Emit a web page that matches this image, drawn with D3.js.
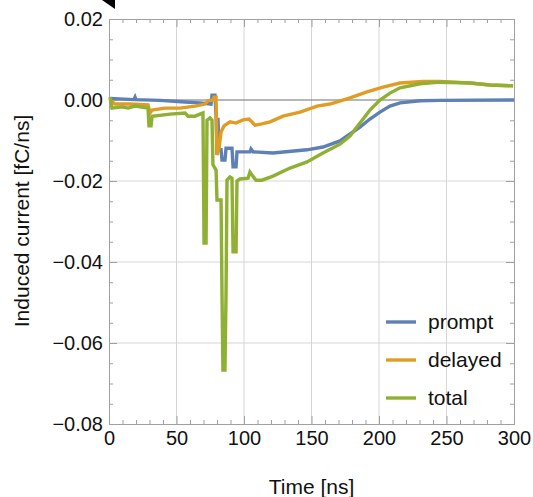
<!DOCTYPE html>
<html>
<head>
<meta charset="utf-8">
<script src="https://cdn.jsdelivr.net/npm/d3@7"></script>
<style>
  body { margin: 0; background: #fff; }
  svg { font-family: "Liberation Sans", Arial, sans-serif; }
</style>
</head>
<body>
<div class="chart"></div>
<script>
// time [ns], induced current [fC/ns]
const promptData = [
  [0.7, 0.0004], [18.5, 0.0001], [19.3, 0.0007], [20.0, 0.0001], [37.8, -0.0001],
  [56.3, -0.0005], [67.4, -0.0007], [75.6, -0.001], [76.3, 0.0012], [78.5, 0.0012],
  [79.3, -0.0037], [80.0, -0.0136], [80.7, -0.0044], [81.5, -0.0123], [83.0, -0.0123],
  [83.7, -0.0148], [85.9, -0.0148], [86.7, -0.0119], [91.1, -0.0119], [91.9, -0.0165],
  [94.1, -0.0165], [94.8, -0.0128], [104.4, -0.0128], [105.2, -0.0121], [106.7, -0.0128],
  [121.5, -0.0131], [146.7, -0.0123], [158.5, -0.0116], [171.1, -0.0101], [178.5, -0.0084],
  [185.9, -0.0067], [193.3, -0.0047], [200.7, -0.003], [208.1, -0.0015], [215.6, -0.0007],
  [230.4, -0.0002], [245.2, -0.0001], [300, 0]
];
const delayedData = [
  [1.5, -0.0002], [4.4, -0.001], [15.6, -0.001], [28.9, -0.0012], [30.4, -0.0032],
  [31.9, -0.0025], [41.5, -0.002], [52.6, -0.002], [63.7, -0.0015], [71.1, -0.001],
  [73.3, -0.0002], [77.0, 0], [77.8, 0.0007], [79.3, 0.0007], [80.0, -0.0136],
  [81.5, -0.0119], [83.0, -0.0079], [85.2, -0.0064], [89.6, -0.0054], [94.1, -0.0057],
  [99.3, -0.0049], [103.7, -0.0047], [105.2, -0.0052], [108.1, -0.0062], [113.3, -0.0059],
  [119.3, -0.0054], [128.9, -0.004], [141.5, -0.003], [154.1, -0.0015], [163.7, -0.001],
  [178.5, 0.0005], [191.1, 0.002], [203.0, 0.0032], [215.6, 0.0042], [232.6, 0.0046],
  [245.2, 0.0046], [267.4, 0.0042], [282.2, 0.0037], [299.3, 0.0035]
];
const totalData = [
  [0.7, 0.0007], [2.2, -0.002], [9.6, -0.0017], [14.1, -0.002], [19.3, -0.0015],
  [28.9, -0.002], [29.6, -0.0064], [31.1, -0.0064], [31.9, -0.004], [45.2, -0.0035],
  [56.3, -0.0032], [58.5, -0.004], [63.7, -0.004], [67.4, -0.0035], [69.6, -0.0032],
  [70.4, -0.0353], [71.9, -0.0353], [72.6, -0.005], [74.8, -0.0044], [76.3, -0.005],
  [77.0, -0.016], [79.3, -0.0173], [80.0, -0.0247], [83.0, -0.0247], [83.7, -0.0477],
  [84.4, -0.0667], [85.9, -0.0667], [86.7, -0.0477], [87.4, -0.0198], [89.6, -0.019],
  [91.1, -0.0193], [91.9, -0.0375], [94.1, -0.0375], [94.8, -0.02], [97.0, -0.0195],
  [103.0, -0.0193], [104.4, -0.0178], [105.9, -0.0185], [108.9, -0.0198], [113.3, -0.0198],
  [121.5, -0.0188], [134.1, -0.0168], [146.7, -0.0153], [158.5, -0.0131], [171.1, -0.0109],
  [178.5, -0.0089], [185.9, -0.0057], [193.3, -0.0025], [200.7, 0], [208.1, 0.0017],
  [215.6, 0.003], [230.4, 0.004], [245.2, 0.0044], [267.4, 0.0042], [282.2, 0.0037],
  [299.3, 0.0035]
];
const seriesNames = ['prompt', 'delayed', 'total'];
const seriesColors = ['#5E81B5', '#E19C24', '#8FB032'];
const xTicks = [0, 50, 100, 150, 200, 250, 300];
const yTicks = [0.02, 0.00, -0.02, -0.04, -0.06, -0.08];

const w = 533, h = 497;
const pLeft = 109, pRight = 514, pTop = 19, pBottom = 424;

const xScale = d3.scaleLinear().domain([0, 300]).range([pLeft, pRight]);
const yScale = d3.scaleLinear().domain([-0.08, 0.02]).range([pBottom, pTop]);

const svg = d3.select('div.chart')
  .append('svg')
  .attr('width', w)
  .attr('height', h);

// grid
svg.append('g')
  .selectAll('line')
  .data(xTicks.slice(1, -1))
  .enter()
  .append('line')
  .attr('x1', d => xScale(d)).attr('x2', d => xScale(d))
  .attr('y1', pTop).attr('y2', pBottom)
  .attr('stroke', '#d6d6d6').attr('stroke-width', 1);
svg.append('g')
  .selectAll('line')
  .data(yTicks.filter(d => d !== 0 && d > -0.08 && d < 0.02))
  .enter()
  .append('line')
  .attr('x1', pLeft).attr('x2', pRight)
  .attr('y1', d => yScale(d)).attr('y2', d => yScale(d))
  .attr('stroke', '#d6d6d6').attr('stroke-width', 1);

// zero line
svg.append('line')
  .attr('x1', pLeft).attr('x2', pRight)
  .attr('y1', yScale(0)).attr('y2', yScale(0))
  .attr('stroke', '#6e6e6e').attr('stroke-width', 1);

// frame + ticks
const minorX = d3.range(0, 301, 10).filter(d => d % 50 !== 0);
const minorY = d3.range(-80, 21, 5).filter(d => d % 20 !== 0).map(d => d / 1000);

function styleAxis(g) {
  g.select('.domain').attr('stroke', '#a0a0a0');
  g.selectAll('.tick line').attr('stroke', '#a0a0a0');
  g.selectAll('.tick text').attr('fill', '#111').attr('font-size', 20);
}

svg.append('g')
  .attr('transform', 'translate(0,' + pBottom + ')')
  .call(d3.axisBottom(xScale).tickValues(xTicks).tickSize(-8).tickSizeOuter(0).tickPadding(6).tickFormat(d3.format('d')))
  .call(styleAxis)
  .call(g => g.selectAll('.tick text').attr('dy', '0.78em').attr('y', 5));
svg.append('g')
  .attr('transform', 'translate(0,' + pBottom + ')')
  .call(d3.axisBottom(xScale).tickValues(minorX).tickSize(-4).tickSizeOuter(0).tickFormat(''))
  .call(styleAxis);
svg.append('g')
  .attr('transform', 'translate(0,' + pTop + ')')
  .call(d3.axisTop(xScale).tickValues(xTicks).tickSize(-8).tickSizeOuter(0).tickFormat(''))
  .call(styleAxis);
svg.append('g')
  .attr('transform', 'translate(0,' + pTop + ')')
  .call(d3.axisTop(xScale).tickValues(minorX).tickSize(-4).tickSizeOuter(0).tickFormat(''))
  .call(styleAxis);

svg.append('g')
  .attr('transform', 'translate(' + pLeft + ',0)')
  .call(d3.axisLeft(yScale).tickValues(yTicks).tickSize(-8).tickSizeOuter(0).tickPadding(6).tickFormat(d3.format('.2f')))
  .call(styleAxis);
svg.append('g')
  .attr('transform', 'translate(' + pLeft + ',0)')
  .call(d3.axisLeft(yScale).tickValues(minorY).tickSize(-4).tickSizeOuter(0).tickFormat(''))
  .call(styleAxis);
svg.append('g')
  .attr('transform', 'translate(' + pRight + ',0)')
  .call(d3.axisRight(yScale).tickValues(yTicks).tickSize(-8).tickSizeOuter(0).tickFormat(''))
  .call(styleAxis);
svg.append('g')
  .attr('transform', 'translate(' + pRight + ',0)')
  .call(d3.axisRight(yScale).tickValues(minorY).tickSize(-4).tickSizeOuter(0).tickFormat(''))
  .call(styleAxis);

// curves
const line = d3.line()
  .x(d => xScale(d[0]))
  .y(d => yScale(d[1]));

[promptData, delayedData, totalData].forEach((data, i) => {
  svg.append('path')
    .datum(data)
    .attr('fill', 'none')
    .attr('stroke', seriesColors[i])
    .attr('stroke-width', 3.4)
    .attr('stroke-linejoin', 'miter')
    .attr('d', line);
});

// legend
const legend = svg.append('g');
seriesNames.forEach((name, i) => {
  const ly = 322 + i * 38;
  legend.append('line')
    .attr('x1', 386).attr('x2', 416)
    .attr('y1', ly).attr('y2', ly)
    .attr('stroke', seriesColors[i]).attr('stroke-width', 3.4);
  legend.append('text')
    .attr('x', 428).attr('y', ly + 7)
    .attr('font-size', 21)
    .attr('fill', '#111')
    .text(name);
});

// axis titles
svg.append('text')
  .attr('x', (pLeft + pRight) / 2).attr('y', 494)
  .attr('text-anchor', 'middle')
  .attr('font-size', 21)
  .attr('fill', '#111')
  .text('Time [ns]');
svg.append('text')
  .attr('transform', 'translate(29,' + 221 + ') rotate(-90)')
  .attr('text-anchor', 'middle')
  .attr('font-size', 21)
  .attr('fill', '#111')
  .text('Induced current [fC/ns]');

// little black marker at the top-left corner
svg.append('path')
  .attr('d', 'M102,0 L115,0 L115,9 Z')
  .attr('fill', '#000');
</script>
</body>
</html>
